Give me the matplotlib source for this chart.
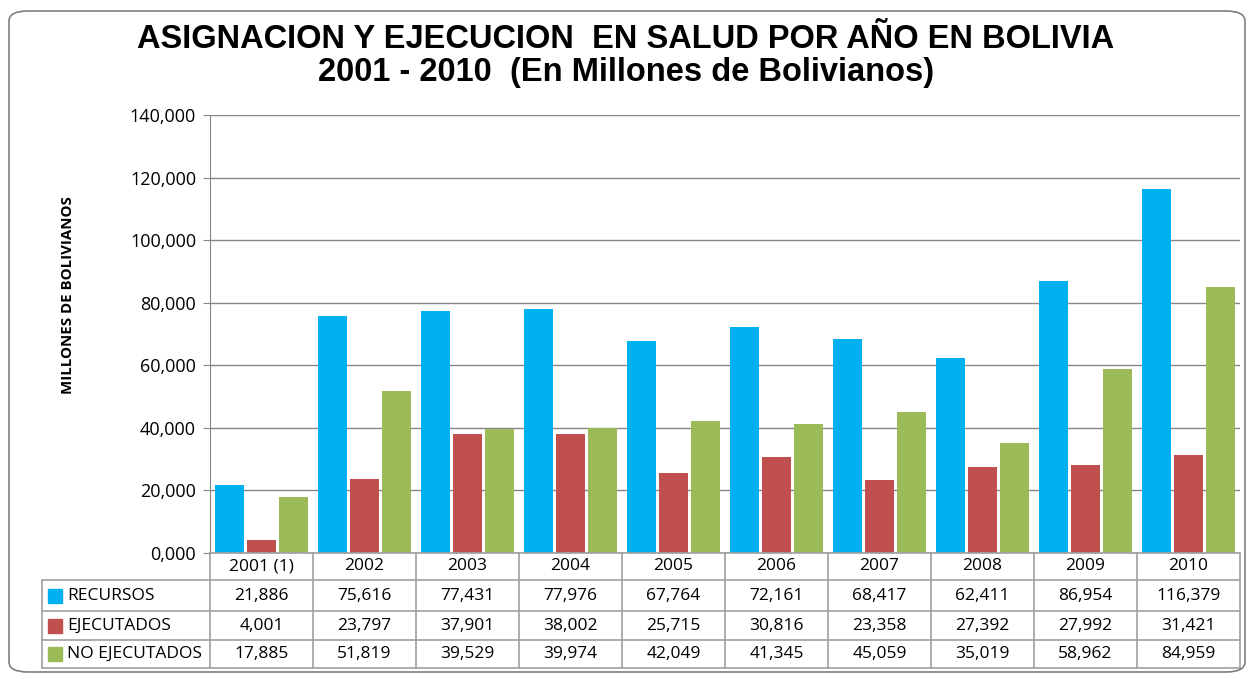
import matplotlib.pyplot as plt
from matplotlib.patches import FancyBboxPatch, Rectangle
import numpy as np

# datos
years = ['2001 (1)', '2002', '2003', '2004', '2005', '2006', '2007', '2008', '2009', '2010']
recursos = [21.886, 75.616, 77.431, 77.976, 67.764, 72.161, 68.417, 62.411, 86.954, 116.379]
ejecutados = [4.001, 23.797, 37.901, 38.002, 25.715, 30.816, 23.358, 27.392, 27.992, 31.421]
no_ejecutados = [17.885, 51.819, 39.529, 39.974, 42.049, 41.345, 45.059, 35.019, 58.962, 84.959]
series_names = ['RECURSOS', 'EJECUTADOS', 'NO EJECUTADOS']
colors = ['#00B0F0', '#C0504D', '#9BBB59']

W, H = 1253, 679
fig = plt.figure(figsize=(W / 100, H / 100), dpi=100)

def fx(px):
    return px / W

def fy(py):
    return 1 - py / H

# marco redondeado
frame = FancyBboxPatch((fx(9), fy(672)), fx(1245) - fx(9), fy(11) - fy(672),
                       boxstyle='round,pad=0,rounding_size=0.015', transform=fig.transFigure,
                       fill=False, edgecolor='#7F7F7F', lw=1.2)
fig.patches.append(frame)

# titulo
fig.text(fx(626), fy(39), 'ASIGNACION Y EJECUCION  EN SALUD POR AÑO EN BOLIVIA',
         ha='center', va='center', fontsize=23.5, fontweight='bold', family='Liberation Sans')
fig.text(fx(626), fy(73), '2001 - 2010  (En Millones de Bolivianos)',
         ha='center', va='center', fontsize=23.5, fontweight='bold', family='Liberation Sans')

x0, x1, ytop, ybot = 210, 1240, 115, 553
ax = fig.add_axes([fx(x0), fy(ybot), fx(x1) - fx(x0), fy(ytop) - fy(ybot)])
x = np.arange(len(years))
data = [recursos, ejecutados, no_ejecutados]
offs = [-0.31, 0, 0.31]
for vals, c, o in zip(data, colors, offs):
    ax.bar(x + o, vals, width=0.28, color=c, zorder=3)

ax.set_xlim(-0.5, len(years) - 0.5)
ax.set_ylim(0, 140)
ax.set_yticks(np.arange(0, 141, 20))
ax.set_yticklabels(['%d,000' % v for v in range(0, 141, 20)], family='Open Sans', fontsize=13)
ax.set_xticks([])
ax.yaxis.grid(True, color='#868686', lw=1, zorder=0)
for s in ['top', 'right', 'bottom']:
    ax.spines[s].set_visible(False)
ax.spines['left'].set_color('#868686')
ax.tick_params(axis='y', length=5, color='#868686', pad=5)
fig.text(fx(68), fy(295), 'MILLONES DE BOLIVIANOS', rotation=90, ha='center', va='center',
         fontsize=10.8, fontweight='bold', family='Open Sans')

# tabla de datos
tx0, ty0, ty1 = 42, 553, 668
cw = (x1 - x0) / len(years)
lab_w = (x0 - tx0) / cw
tab = fig.add_axes([fx(tx0), fy(ty1), fx(x1) - fx(tx0), fy(ty0) - fy(ty1)])
tab.set_xlim(-0.5 - lab_w, len(years) - 0.5)
tab.set_ylim(ty1, ty0)
tab.axis('off')
rows = [553, 580, 611, 640, 668]
lc = '#A0A0A0'
for i, y in enumerate(rows):
    xs = -0.5 if i == 0 else -0.5 - lab_w
    tab.plot([xs, len(years) - 0.5], [y, y], color=lc, lw=1.2, clip_on=False)
for j in range(len(years) + 1):
    tab.plot([j - 0.5, j - 0.5], [rows[0], rows[-1]], color=lc, lw=1.2, clip_on=False)
tab.plot([-0.5 - lab_w] * 2, [rows[1], rows[-1]], color=lc, lw=1.2, clip_on=False)

tfont = dict(family='Open Sans', fontsize=12.5, ha='center', va='center')
for j, yr in enumerate(years):
    tab.text(j, (rows[0] + rows[1]) / 2, yr, **tfont)
sq = 14 / cw
for i, (name, vals, c) in enumerate(zip(series_names, data, colors)):
    yc = (rows[i + 1] + rows[i + 2]) / 2
    tab.add_patch(Rectangle((-0.5 - lab_w + 6 / cw, yc - 7), sq, 14, color=c, clip_on=False))
    tab.text(-0.5 - lab_w + 25 / cw, yc, name, family='Open Sans', fontsize=12.5,
             ha='left', va='center')
    for j, v in enumerate(vals):
        tab.text(j, yc, ('%.3f' % v).replace('.', ','), **tfont)

fig.savefig('out.png', dpi=100)
